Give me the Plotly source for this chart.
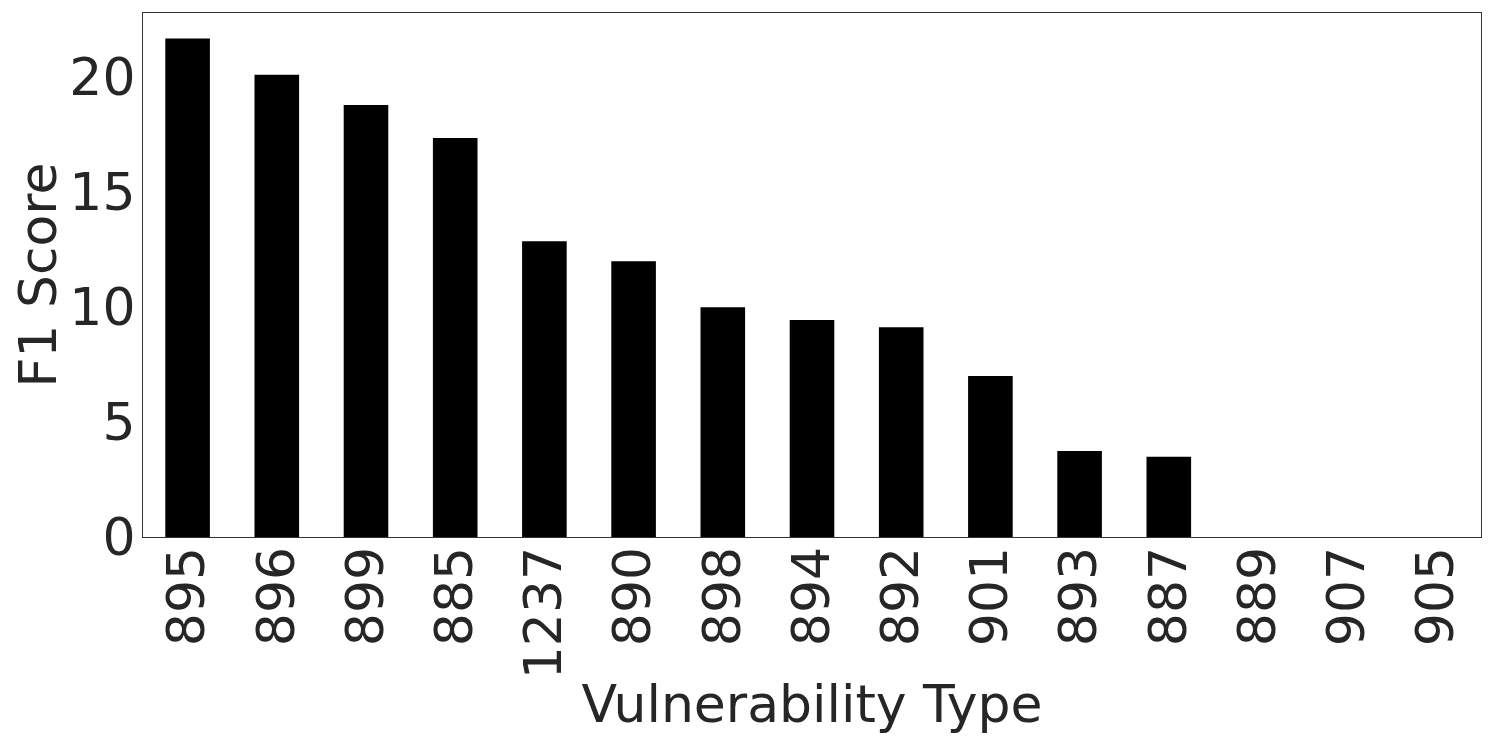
import plotly.graph_objects as go

# Datos de la gráfica
vuln_types = ['895', '896', '899', '885', '1237', '890', '898', '894',
              '892', '901', '893', '887', '889', '907', '905']
f1_scores = [21.67, 20.1, 18.78, 17.35, 12.86, 11.99, 9.99, 9.43,
             9.12, 7.0, 3.74, 3.49, 0, 0, 0]
y_ticks = [0, 5, 10, 15, 20]

TEXT_COLOR = '#262626'
FONT = 'DejaVu Sans'

fig = go.Figure(
    go.Bar(
        x=vuln_types,
        y=f1_scores,
        width=0.5,
        marker=dict(color='black', line=dict(width=0)),
    )
)

# la página deja 8px de margen en el body, se compensa aquí
fig.update_layout(
    width=1495,
    height=747,
    margin=dict(l=135, r=22, t=5, b=218),
    paper_bgcolor='white',
    plot_bgcolor='white',
    showlegend=False,
    font=dict(family=FONT, size=52, color=TEXT_COLOR),
)

fig.update_xaxes(
    type='category',
    range=[-0.5, 14.5],
    tickangle=-90,
    ticks='',
    ticklabelstandoff=-12,
    showgrid=False,
    showline=True,
    linecolor='#333333',
    linewidth=1.2,
    mirror=True,
    automargin=False,
    title=dict(text='Vulnerability Type', font=dict(size=52), standoff=7),
)

fig.update_yaxes(
    range=[0, 22.78],
    tickvals=y_ticks,
    ticks='',
    ticklabelstandoff=-4,
    showgrid=False,
    zeroline=False,
    showline=True,
    linecolor='#333333',
    linewidth=1.2,
    mirror=True,
    automargin=False,
    title=dict(text='F1 Score', font=dict(size=52), standoff=6),
)

fig.write_html("out.html")
